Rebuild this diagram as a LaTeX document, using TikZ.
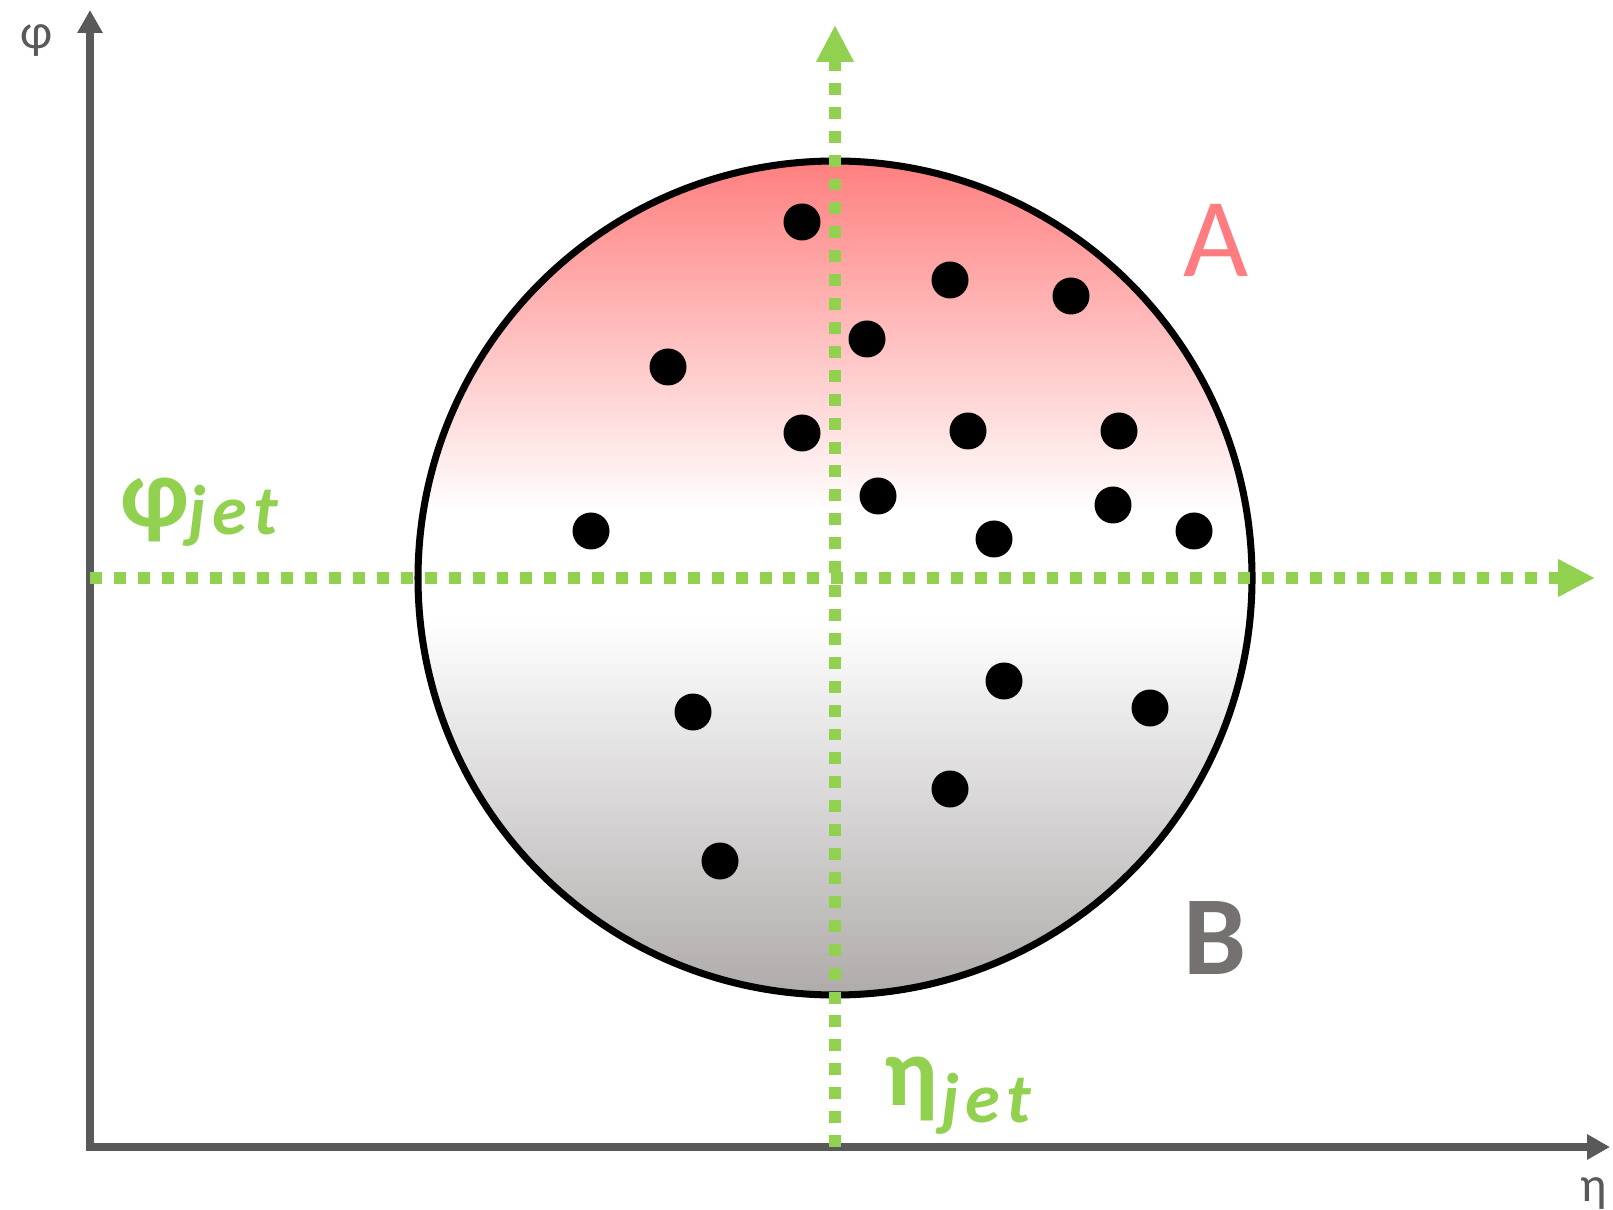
\documentclass[tikz,border=0pt]{standalone}
\usepackage{fontspec}
\setmainfont{Carlito}
\newfontfamily\jetfont[LetterSpace=9]{Carlito}
\usetikzlibrary{arrows.meta}
\definecolor{jetgreen}{HTML}{92D050}
\definecolor{axisgray}{HTML}{595959}
\definecolor{labelred}{HTML}{FF7C80}
\definecolor{labelgray}{HTML}{767171}
\definecolor{shadered}{HTML}{FF7F7F}
\definecolor{shadegray}{HTML}{AFABAB}
\pgfdeclareverticalshading{jetshade}{100bp}{color(0bp)=(shadegray); color(25bp)=(shadegray); color(47.5bp)=(white); color(54bp)=(white); color(75bp)=(shadered); color(100bp)=(shadered)}

\begin{document}
\begin{tikzpicture}[x=0.01cm, y=-0.01cm,
  axisline/.style={axisgray, line width=2pt, {Triangle[width=6.8pt,length=6.5pt]}-{Triangle[width=6.8pt,length=6.5pt]}},
  jetline/.style={jetgreen, line width=3.4pt, dash pattern=on 3.4pt off 3.4pt, -{Triangle[width=10pt,length=10.5pt]}},
  axislabel/.style={axisgray, font=\fontsize{14}{14}\selectfont, inner sep=0pt},
  jetlabel/.style={jetgreen, font=\fontsize{28}{28}\selectfont\bfseries, inner sep=0pt, anchor=base west},
  subjet/.style={jetgreen, font=\fontsize{20}{20}\selectfont\jetfont\bfseries\itshape, inner sep=0pt, anchor=base west},
  halflabel/.style={font=\fontsize{32}{32}\selectfont, inner sep=0pt}]
\useasboundingbox (0,0) rectangle (1613,1210);
\coordinate (origin) at (90,1147);
\coordinate (phitip) at (90,10);
\coordinate (etatip) at (1610,1147);
\coordinate (jetc) at (835,578);
\coordinate (hstart) at (90,578);
\coordinate (hend) at (1595,578);
\coordinate (vstart) at (835,1147);
\coordinate (vend) at (835,25);
\shade[shading=jetshade] (jetc) circle[radius=417];
\draw[line width=2pt] (jetc) circle[radius=417];
\draw[axisline] (phitip) -- (origin) -- (etatip);
\draw[jetline] (hstart) -- (hend);
\draw[jetline] (vstart) -- (vend);
\foreach \x/\y in {802/222, 950/280, 1071/296, 867/339, 668/367, 802/433, 968/431,
  1119/431, 878/496, 1113/505, 591/531, 994/539, 1194/531, 1004/681, 1150/708,
  693/712, 950/789, 720/861} {
  \fill (\x,\y) circle[radius=18.5];
}
\node[axislabel] (philbl) at (37,41) {φ};
\node[axislabel, anchor=north] (etalbl) at (1594,1177) {η};
\node[jetlabel] (phisym) at (120,527) {φ};
\node[subjet] (phisub) at (188,535) {jet};
\node[jetlabel] (etasym) at (884,1105) {η};
\node[subjet] (etasub) at (941,1122) {jet};
\node[halflabel, labelred] (halfA) at (1216,240) {A};
\node[halflabel, labelgray, font=\fontsize{32}{32}\selectfont\bfseries] (halfB) at (1215,938) {B};
\end{tikzpicture}
\end{document}
